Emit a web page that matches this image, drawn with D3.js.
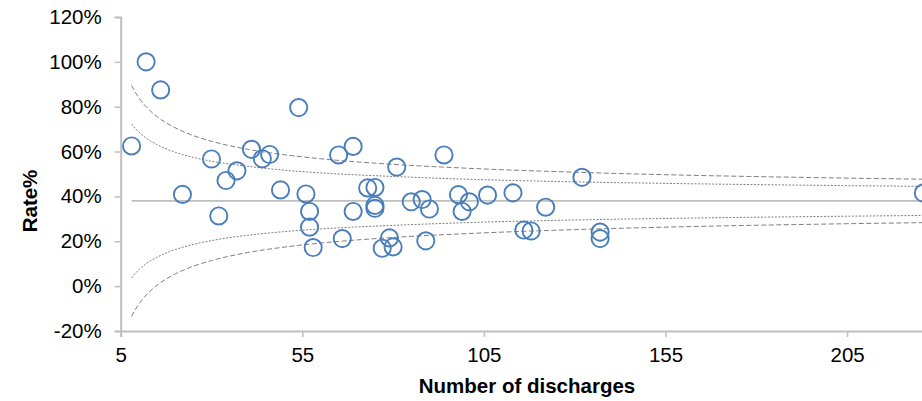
<!DOCTYPE html>
<html>
<head>
<meta charset="utf-8">
<script src="https://cdn.jsdelivr.net/npm/d3@7"></script>
<style>
  html, body { margin: 0; padding: 0; background: #fff; }
  svg { display: block; }
</style>
</head>
<body>
<svg id="chart" width="922" height="401"></svg>
<script>
// ---- data ----
const discharges = [8,12,16,22,30,32,34,37,41,44,46,49,54,56,57,57,58,65,66,69,69,73,75,75,75,77,79,80,81,85,88,89,90,94,98,99,101,106,113,116,118,122,132,137,137,226];
const rates = [62.5,100,87.5,40.9,56.7,31.3,47.1,51.4,61.0,56.8,58.7,42.9,79.6,41.1,33.3,26.3,17.2,58.5,21.2,62.3,33.3,43.8,44.0,36.0,34.7,16.9,21.5,17.5,53.1,37.6,38.6,20.2,34.4,58.5,40.8,33.3,37.6,40.6,41.6,25.0,24.6,35.2,48.5,24.1,21.2,41.5];
const meanRate = 38;
const limitN   = [8, 9, 10, 12, 15, 20, 25, 30, 40, 50, 60, 80, 100, 130, 160, 200, 255];
const upper3   = [89.5, 86.5, 84.0, 80.0, 75.6, 70.6, 67.1, 64.6, 61.0, 58.6, 56.8, 54.3, 52.6, 50.8, 49.5, 48.3, 47.1];
const upper2   = [72.3, 70.4, 68.7, 66.0, 63.1, 59.7, 57.4, 55.7, 53.4, 51.7, 50.5, 48.9, 47.7, 46.5, 45.7, 44.9, 44.1];
const lower2   = [3.7, 5.6, 7.3, 10.0, 12.9, 16.3, 18.6, 20.3, 22.7, 24.3, 25.5, 27.1, 28.3, 29.5, 30.3, 31.1, 31.9];
const lower3   = [-13.5, -10.5, -8.0, -4.0, 0.4, 5.4, 8.9, 11.4, 15.0, 17.4, 19.2, 21.7, 23.4, 25.2, 26.5, 27.7, 28.9];
const xTicks = [5, 55, 105, 155, 205];
const yTicks = [-20, 0, 20, 40, 60, 80, 100, 120];
const xTitle = "Number of discharges";
const yTitle = "Rate%";

// ---- layout ----
const svg = d3.select("#chart");
const x = d3.scaleLinear().domain([5, 255]).range([120.7, 1028.7]);
const y = d3.scaleLinear().domain([-20, 120]).range([331, 17]);
const axisColor = "#bfbfbf";
const font = "'Liberation Sans', Arial, sans-serif";

// y axis
const yAxis = svg.append("g").attr("transform", "translate(120.7,0)")
  .call(d3.axisLeft(y).tickValues(yTicks).tickSize(6).tickPadding(13).tickFormat(d => d + "%"));
// x axis
const xAxis = svg.append("g").attr("transform", "translate(0,331)")
  .call(d3.axisBottom(x).tickValues(xTicks).tickSize(6).tickPadding(10).tickFormat(d3.format("d")));
[yAxis, xAxis].forEach(g => {
  g.selectAll("path.domain").attr("stroke", axisColor).attr("stroke-width", 2);
  g.selectAll(".tick line").attr("stroke", axisColor).attr("stroke-width", 1.5);
  g.selectAll(".tick text").attr("fill", "#000").style("font-family", font).style("font-size", "20.5px");
});

// mean line
svg.append("line")
  .attr("x1", x(limitN[0])).attr("x2", x(255))
  .attr("y1", y(meanRate)).attr("y2", y(meanRate))
  .attr("stroke", "#bfbfbf").attr("stroke-width", 1.6);

// control limits
const line = d3.line().x(d => x(d[0])).y(d => y(d[1])).curve(d3.curveMonotoneX);
const limits = [
  {vals: upper3, dash: "5,2.5"},
  {vals: lower3, dash: "5,2.5"},
  {vals: upper2, dash: "2,1.5"},
  {vals: lower2, dash: "2,1.5"}
];
limits.forEach(l => {
  svg.append("path")
    .datum(limitN.map((n, i) => [n, l.vals[i]]))
    .attr("d", line)
    .attr("fill", "none")
    .attr("stroke", "#7f7f7f")
    .attr("stroke-width", 1)
    .attr("stroke-dasharray", l.dash);
});

// points
svg.append("g").selectAll("circle")
  .data(discharges.map((n, i) => [n, rates[i]]))
  .join("circle")
  .attr("cx", d => x(d[0]))
  .attr("cy", d => y(d[1]))
  .attr("r", 8.6)
  .attr("fill", "none")
  .attr("stroke", "#4a7ebb")
  .attr("stroke-width", 1.9);

// titles
svg.append("text")
  .attr("x", 527).attr("y", 393)
  .attr("text-anchor", "middle")
  .style("font-family", font).style("font-size", "20.5px").style("font-weight", "bold")
  .text(xTitle);
svg.append("text")
  .attr("transform", "translate(37,201) rotate(-90)")
  .attr("text-anchor", "middle")
  .style("font-family", font).style("font-size", "20.5px").style("font-weight", "bold")
  .text(yTitle);
</script>
</body>
</html>
